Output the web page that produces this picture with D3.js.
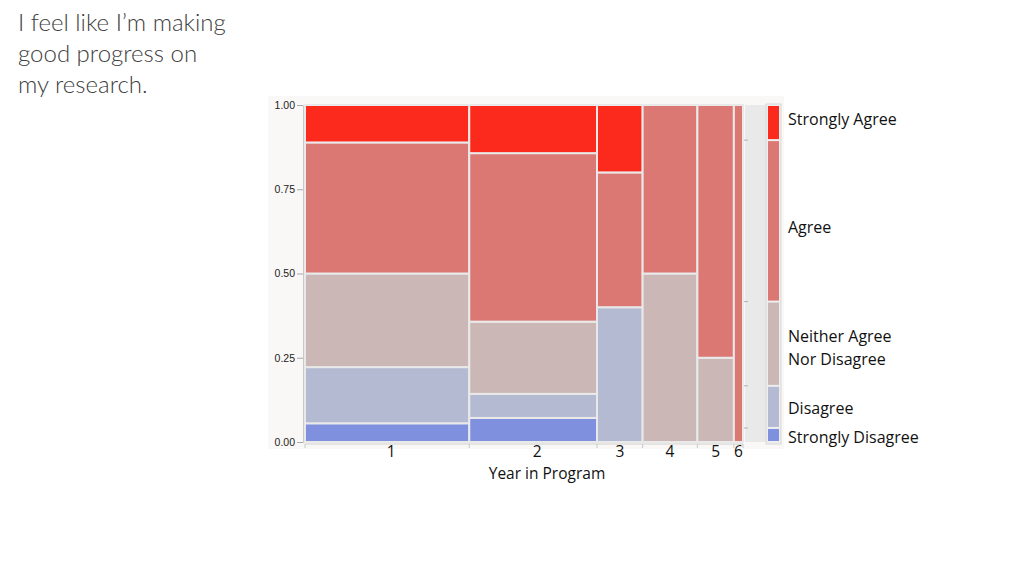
<!DOCTYPE html>
<html>
<head>
<meta charset="utf-8">
<script src="https://cdn.jsdelivr.net/npm/d3@7"></script>
<style>
  html, body { margin: 0; padding: 0; background: #ffffff; }
  svg { display: block; }
</style>
</head>
<body>
<svg id="chart" width="1024" height="576"></svg>
<script>
// ---- data ----
const years = ["1", "2", "3", "4", "5", "6"];
const responses = ["Strongly Disagree", "Disagree", "Neither Agree Nor Disagree", "Agree", "Strongly Agree"];
// counts per year, ordered as responses (bottom to top)
const year1 = [1, 3, 5, 7, 2];
const year2 = [1, 1, 3, 7, 2];
const year3 = [0, 2, 0, 2, 1];
const year4 = [0, 0, 3, 3, 0];
const year5 = [0, 0, 1, 3, 0];
const year6 = [0, 0, 0, 1, 0];
const counts = [year1, year2, year3, year4, year5, year6];
const yTicks = [0, 0.25, 0.5, 0.75, 1];
const legendLines = [["Strongly Disagree"], ["Disagree"], ["Neither Agree", "Nor Disagree"], ["Agree"], ["Strongly Agree"]];
const colors = ["#7f90df", "#b4bad1", "#ccb7b7", "#dc7874", "#fc2a1c"];
const titleLines = ["I feel like I\u2019m making", "good progress on", "my research."];
const xTitle = "Year in Program";

// ---- layout ----
const svg = d3.select("#chart");
const L = 305, R = 743, T = 105, B = 442;

svg.append("rect").attr("x", 268).attr("y", 96).attr("width", 516).attr("height", 353)
  .attr("fill", "#f9f8f6");

const totals = counts.map(c => d3.sum(c));
const N = d3.sum(totals);
const cum = [0];
totals.forEach(t => cum.push(cum[cum.length - 1] + t));

const x = d3.scaleLinear().domain([0, N]).range([L, R]);
const y = d3.scaleLinear().domain([0, 1]).range([B, T]);

// cells
const cells = [];
counts.forEach((c, i) => {
  let acc = 0;
  c.forEach((v, j) => {
    if (v > 0) {
      cells.push({ x0: cum[i], x1: cum[i + 1], y0: acc / totals[i], y1: (acc + v) / totals[i], k: j });
    }
    acc += v;
  });
});

svg.append("g").selectAll("rect").data(cells).join("rect")
  .attr("x", d => x(d.x0))
  .attr("y", d => y(d.y1))
  .attr("width", d => x(d.x1) - x(d.x0))
  .attr("height", d => y(d.y0) - y(d.y1))
  .attr("fill", d => colors[d.k])
  .attr("stroke", "#e9e9e9")
  .attr("stroke-width", 2);

// y axis
const yAxis = svg.append("g").attr("transform", `translate(${L - 2},0)`)
  .call(d3.axisLeft(y).tickValues(yTicks).tickFormat(d3.format(".2f")).tickSize(6).tickPadding(2));
yAxis.select(".domain").attr("stroke", "#c8c8c8");
yAxis.selectAll(".tick line").attr("stroke", "#aaaaaa");
yAxis.selectAll("text").attr("font-family", "Liberation Sans, Arial, sans-serif")
  .attr("font-size", 10.5).attr("fill", "#222");

// x axis: ticks at boundaries, labels centered
const xg = svg.append("g");
xg.append("line").attr("x1", L).attr("x2", R).attr("y1", B + 2).attr("y2", B + 2)
  .attr("stroke", "#d0d0d0");
xg.selectAll("line.b").data(cum).join("line").attr("class", "b")
  .attr("x1", d => x(d)).attr("x2", d => x(d))
  .attr("y1", B + 2).attr("y2", B + 6).attr("stroke", "#c8c8c8");
xg.selectAll("text").data(years).join("text")
  .attr("x", (d, i) => (x(cum[i]) + x(cum[i + 1])) / 2 + (i === 0 ? 4 : i === 1 ? 4 : 0))
  .attr("y", 457)
  .attr("text-anchor", "middle")
  .attr("font-family", "Open Sans, sans-serif")
  .attr("font-size", 15.5)
  .attr("fill", "#111")
  .text(d => d);

svg.append("text").attr("x", 547).attr("y", 479).attr("text-anchor", "middle")
  .attr("font-family", "Open Sans, sans-serif").attr("font-size", 15.5).attr("fill", "#111")
  .text(xTitle);

// overall proportions
const overall = responses.map((r, j) => d3.sum(counts, c => c[j]) / N);
const ocum = [0];
overall.forEach(p => ocum.push(ocum[ocum.length - 1] + p));

// gray strip with ticks
svg.append("rect").attr("x", 745).attr("y", T).attr("width", 21).attr("height", B - T)
  .attr("fill", "#e9e9e9");
svg.append("g").selectAll("line").data(ocum.slice(1, -1)).join("line")
  .attr("x1", 744).attr("x2", 748)
  .attr("y1", d => y(d)).attr("y2", d => y(d))
  .attr("stroke", "#b0b0b0");

// legend bar
const lb = svg.append("g");
lb.append("rect").attr("x", 766).attr("y", T - 1).attr("width", 15).attr("height", B - T + 3)
  .attr("fill", "#eeeeee").attr("stroke", "#d8d8d8");
lb.selectAll("rect.seg").data(overall).join("rect").attr("class", "seg")
  .attr("x", 768)
  .attr("y", (d, j) => y(ocum[j + 1]) + 1)
  .attr("width", 11)
  .attr("height", (d, j) => Math.max(0, y(ocum[j]) - y(ocum[j + 1]) - 2))
  .attr("fill", (d, j) => colors[j]);

// legend labels
const labelY = [439, 410, 338, 229, 121];
legendLines.forEach((lines, j) => {
  const t = svg.append("text").attr("x", 788).attr("y", labelY[j])
    .attr("font-family", "Open Sans, sans-serif").attr("font-size", 16).attr("fill", "#111")
    .attr("dominant-baseline", "middle");
  lines.forEach((ln, k) => {
    t.append("tspan").attr("x", 788).attr("dy", k === 0 ? 0 : 23).text(ln);
  });
});

// title
const tt = svg.append("text").attr("x", 18).attr("y", 31)
  .attr("font-family", "Lato, sans-serif").attr("font-weight", 300)
  .attr("font-size", 24).attr("fill", "#404040");
titleLines.forEach((ln, k) => {
  tt.append("tspan").attr("x", 18).attr("dy", k === 0 ? 0 : 31).text(ln);
});
</script>
</body>
</html>
